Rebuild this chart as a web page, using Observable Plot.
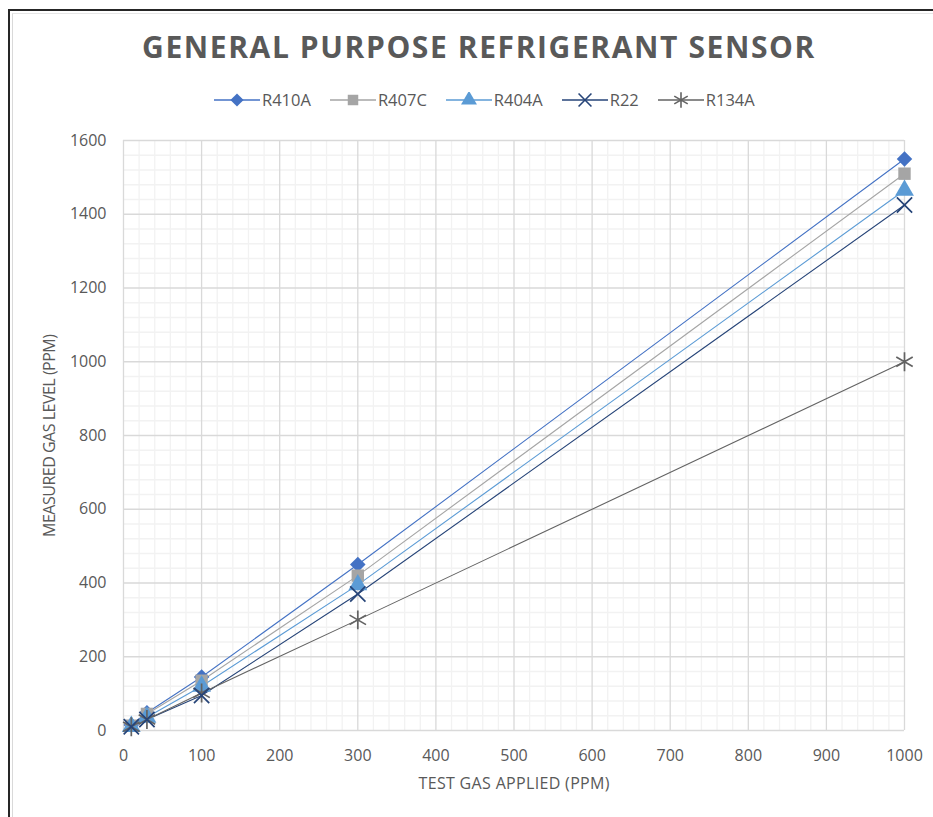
<!DOCTYPE html>
<html><head><meta charset="utf-8">
<script src="https://cdn.jsdelivr.net/npm/d3@7"></script>
<script src="https://cdn.jsdelivr.net/npm/@observablehq/plot@0.6"></script>
<style>
body{margin:0;background:#fff;font-family:"Open Sans",sans-serif;}
#wrap{position:relative;width:933px;height:817px;overflow:hidden;background:#fff;}
#frame{position:absolute;left:8px;top:9px;width:2000px;height:2000px;border-left:2px solid #262626;border-top:2px solid #262626;}
#frame2{position:absolute;left:12px;top:13px;width:2000px;height:2000px;border-left:1px solid #d9d9d9;border-top:1px solid #e6e6e6;}
#title{position:absolute;top:26px;left:0;width:958px;text-align:center;font-weight:700;font-size:30px;letter-spacing:1.6px;color:#595959;white-space:nowrap;}
#legend{position:absolute;top:88px;left:214px;display:flex;gap:19px;align-items:center;font-size:16.5px;color:#595959;}
.item{display:flex;align-items:center;gap:2px;}
#chart{position:absolute;left:0;top:115px;}
</style></head>
<body>
<div id="wrap">
  <div id="frame"></div><div id="frame2"></div>
  <div id="title">GENERAL PURPOSE REFRIGERANT SENSOR</div>
  <div id="legend"></div>
  <div id="chart"></div>
</div>
<script>
const testGas = [10, 30, 100, 300, 1000];
const seriesNames = ["R410A", "R407C", "R404A", "R22", "R134A"];
const R410A = [15, 48, 145, 450, 1550];
const R407C = [13, 45, 135, 420, 1510];
const R404A = [11, 36, 120, 395, 1465];
const R22   = [10, 30, 95, 370, 1425];
const R134A = [10, 30, 102, 300, 1000];
const xTicks = [0, 100, 200, 300, 400, 500, 600, 700, 800, 900, 1000];
const yTicks = [0, 200, 400, 600, 800, 1000, 1200, 1400, 1600];

const colors = ["#4472C4", "#A5A5A5", "#5B9BD5", "#264478", "#636363"];
const symbols = ["diamond2", "square", "triangle", "times", "asterisk"];
const sizes = [7, 7, 7, 7, 9];
const filledSet = new Set(["R410A", "R407C", "R404A"]);
const valuesBy = {R410A, R407C, R404A, R22, R134A};

const data = seriesNames.flatMap((s, k) => testGas.map((x, i) => ({series: s, x, y: valuesBy[s][i], r: sizes[k]})));

const minorX = d3.range(0, 1001, 20).filter(v => v % 100 !== 0);
const minorY = d3.range(0, 1601, 40).filter(v => v % 200 !== 0);

const chart = Plot.plot({
  width: 933, height: 702,
  marginLeft: 123, marginRight: 29, marginTop: 25, marginBottom: 87,
  x: {domain: [0, 1000]},
  y: {domain: [0, 1600]},
  r: {type: "identity"},
  color: {domain: seriesNames, range: colors},
  symbol: {domain: seriesNames, range: symbols},
  style: {fontFamily: "Open Sans, sans-serif", fontSize: "16px", color: "#595959", background: "transparent", overflow: "visible"},
  marks: [
    Plot.gridX(minorX, {stroke: "#f2f2f2", strokeOpacity: 1, strokeWidth: 1.3}),
    Plot.gridY(minorY, {stroke: "#f2f2f2", strokeOpacity: 1, strokeWidth: 1.3}),
    Plot.gridX(xTicks, {stroke: "#d9d9d9", strokeOpacity: 1, strokeWidth: 1.3}),
    Plot.gridY(yTicks, {stroke: "#d9d9d9", strokeOpacity: 1, strokeWidth: 1.3}),
    Plot.axisX({ticks: xTicks, tickFormat: d => String(d), tickSize: 0, tickPadding: 19, label: "TEST GAS APPLIED (PPM)", labelAnchor: "center", labelArrow: "none", labelOffset: 58}),
    Plot.axisY({ticks: yTicks, tickFormat: d => String(d), tickSize: 0, tickPadding: 17, label: "MEASURED GAS LEVEL (PPM)", labelAnchor: "center", labelArrow: "none", labelOffset: 80}),
    Plot.line(data, {x: "x", y: "y", z: "series", stroke: "series", strokeWidth: 1.1}),
    Plot.dot(data.filter(d => filledSet.has(d.series)), {x: "x", y: "y", symbol: "series", fill: "series", r: "r"}),
    Plot.dot(data.filter(d => !filledSet.has(d.series)), {x: "x", y: "y", symbol: "series", stroke: "series", r: "r", strokeWidth: 1.7})
  ]
});
const xl = chart.querySelector('g[aria-label="x-axis label"] text');
if (xl) { xl.style.fontSize = "16px"; xl.setAttribute("textLength", 191); }
const yl = chart.querySelector('g[aria-label="y-axis label"] text');
if (yl) { yl.style.fontSize = "16px"; yl.setAttribute("textLength", 203); }
document.getElementById("chart").appendChild(chart);

// legend
const symMap = {diamond2: d3.symbolDiamond2, square: d3.symbolSquare, triangle: d3.symbolTriangle, times: d3.symbolTimes, asterisk: d3.symbolAsterisk};
const symSizes = [110, 110, 110, 110, 170];
const legend = d3.select("#legend");
seriesNames.forEach((s, i) => {
  const item = legend.append("div").attr("class", "item");
  const svg = item.append("svg").attr("width", 46).attr("height", 16);
  svg.append("line").attr("x1", 0).attr("x2", 46).attr("y1", 8).attr("y2", 8).attr("stroke", colors[i]).attr("stroke-width", 1.5);
  const sym = d3.symbol().type(symMap[symbols[i]]).size(symSizes[i]);
  const p = svg.append("path").attr("transform", "translate(23,8)").attr("d", sym());
  if (filledSet.has(s)) p.attr("fill", colors[i]); else p.attr("fill", "none").attr("stroke", colors[i]).attr("stroke-width", 1.6);
  item.append("span").text(s);
});
</script>
</body></html>
